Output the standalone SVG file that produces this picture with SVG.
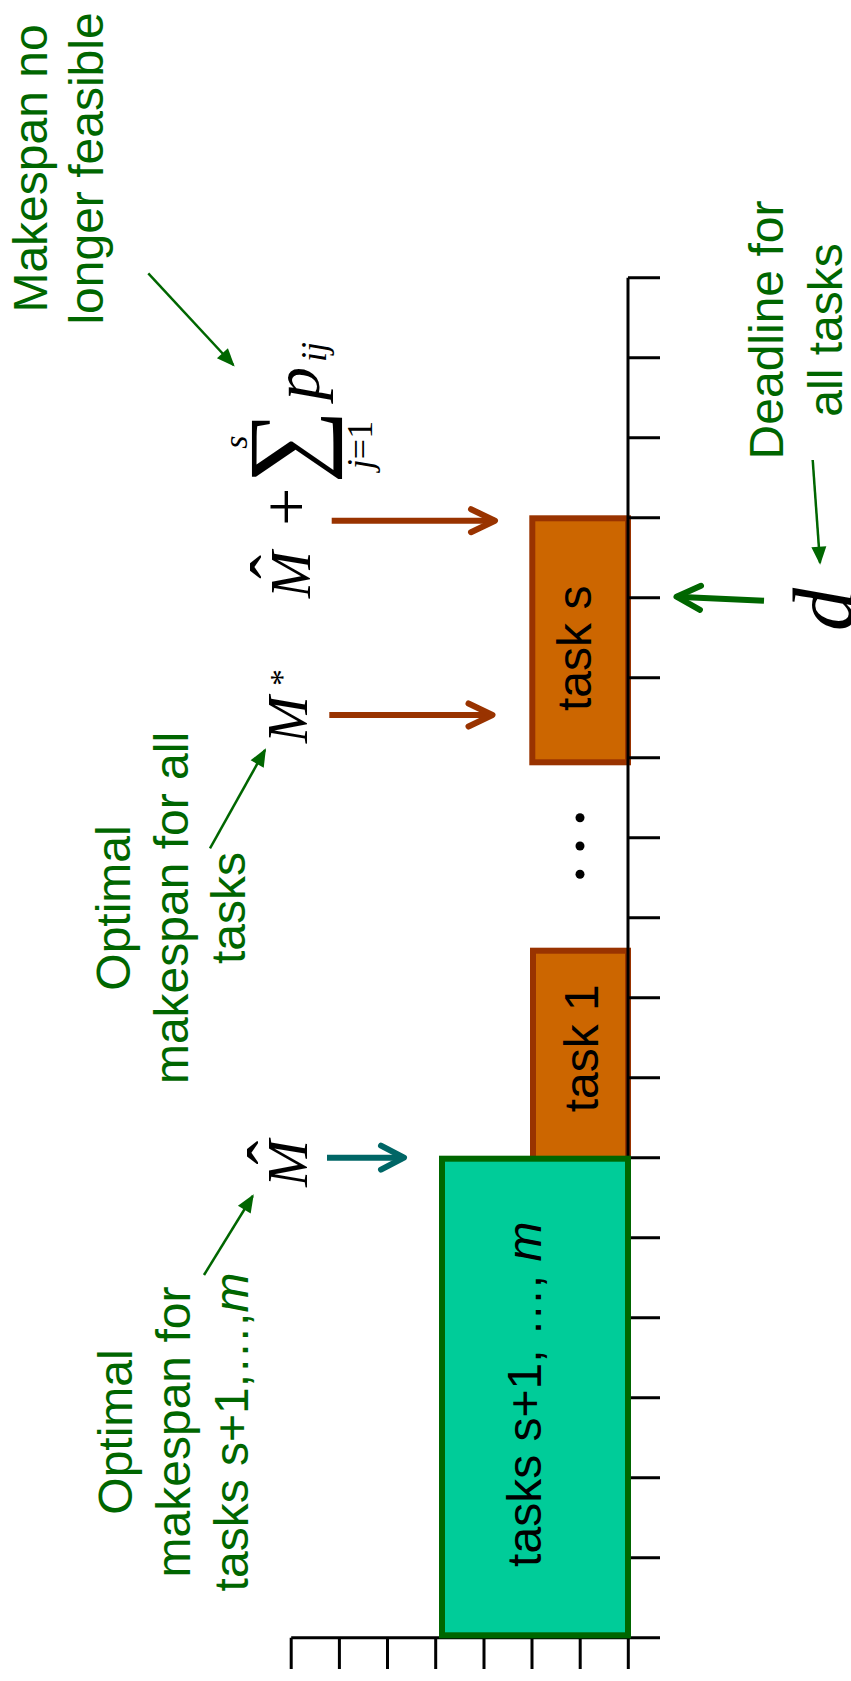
<svg xmlns="http://www.w3.org/2000/svg" width="851" height="1681" viewBox="0 0 851 1681">
<style>
.lbl{font-family:"Liberation Sans",Arial,sans-serif;font-size:48px;fill:#006600;text-anchor:middle}
.box{font-family:"Liberation Sans",Arial,sans-serif;font-size:48px;fill:#000;text-anchor:middle}
.math{font-family:"Liberation Serif","Times New Roman",serif;fill:#000}
.it{font-style:italic}
.ax{stroke:#000;stroke-width:3;fill:none}
.thin{stroke:#006600;stroke-width:2.5;fill:none}
.br{stroke:#993300;stroke-width:6;fill:none}
.teal{stroke:#006666;stroke-width:6;fill:none}
.gthick{stroke:#006600;stroke-width:6;fill:none}
</style>
<defs>
<marker id="tri" markerUnits="userSpaceOnUse" orient="auto" refX="0" refY="0" markerWidth="30" markerHeight="30" overflow="visible">
<path d="M2,0 L-16,-7.5 L-16,7.5 Z" fill="#006600"/>
</marker>
<marker id="chevB" markerUnits="userSpaceOnUse" orient="auto" refX="0" refY="0" markerWidth="40" markerHeight="40" overflow="visible">
<path d="M-24,-11.5 L0,0 L-24,11.5" fill="none" stroke="#993300" stroke-width="6" stroke-linecap="round" stroke-linejoin="round"/>
</marker>
<marker id="chevT" markerUnits="userSpaceOnUse" orient="auto" refX="0" refY="0" markerWidth="40" markerHeight="40" overflow="visible">
<path d="M-23,-12 L0,0 L-23,12" fill="none" stroke="#006666" stroke-width="6" stroke-linecap="round" stroke-linejoin="round"/>
</marker>
<marker id="chevG" markerUnits="userSpaceOnUse" orient="auto" refX="0" refY="0" markerWidth="40" markerHeight="40" overflow="visible">
<path d="M-24,-12 L0,0 L-24,12" fill="none" stroke="#006600" stroke-width="6" stroke-linecap="round" stroke-linejoin="round"/>
</marker>
</defs>

<g id="task-s">
<rect x="532.3" y="518.3" width="95.7" height="244" fill="#CC6600" stroke="#993300" stroke-width="6"/>
<text class="box" transform="translate(591,648.3) rotate(-90)">task s</text>
</g>
<g id="task-1">
<rect x="533" y="950.7" width="95" height="210" fill="#CC6600" stroke="#993300" stroke-width="6"/>
<text class="box" transform="translate(598,1048.3) rotate(-90)">task 1</text>
</g>

<g id="axis">
<path class="ax" d="M628,277.7 V1637.7 M628,277.7 H660 M628,357.7 H660 M628,437.7 H660 M628,517.7 H660 M628,597.7 H660 M628,677.7 H660 M628,757.7 H660 M628,837.7 H660 M628,917.7 H660 M628,997.7 H660 M628,1077.7 H660 M628,1157.7 H660 M628,1237.7 H660 M628,1317.7 H660 M628,1397.7 H660 M628,1477.7 H660 M628,1557.7 H660"/>
<path class="ax" d="M291.2,1637.7 H660 M291.2,1637.7 V1669 M339.4,1637.7 V1669 M387.5,1637.7 V1669 M435.7,1637.7 V1669 M484,1637.7 V1669 M532,1637.7 V1669 M580.2,1637.7 V1669 M628.3,1637.7 V1669"/>
</g>

<g id="tasks-rest">
<rect x="442" y="1158.7" width="186" height="476.6" fill="#00CC99" stroke="#006600" stroke-width="6"/>
<text class="box" transform="translate(540.7,1394.2) rotate(-90)">tasks s+1, …, <tspan font-style="italic">m</tspan></text>
</g>

<g id="dots" fill="#000">
<circle cx="580" cy="817.7" r="4.5"/>
<circle cx="580" cy="846" r="4.5"/>
<circle cx="580" cy="874.3" r="4.5"/>
</g>

<g id="label-infeasible">
<text class="lbl" transform="translate(46.7,168.5) rotate(-90)"><tspan x="0" y="0">Makespan no</tspan><tspan x="0" y="56.6">longer feasible</tspan></text>
</g>
<g id="label-deadline">
<text class="lbl" transform="translate(783.3,330) rotate(-90)"><tspan x="0" y="0">Deadline for</tspan><tspan x="0" y="58.4">all tasks</tspan></text>
</g>
<g id="label-opt-all">
<text class="lbl" transform="translate(130,908) rotate(-90)"><tspan x="0" y="0">Optimal</tspan><tspan x="0" y="58.3">makespan for all</tspan><tspan x="0" y="115">tasks</tspan></text>
</g>
<g id="label-opt-rest">
<text class="lbl" transform="translate(131.7,1432) rotate(-90)"><tspan x="0" y="0">Optimal</tspan><tspan x="0" y="58.3">makespan for</tspan><tspan x="0" y="116.8">tasks s+1,…,<tspan font-style="italic">m</tspan></tspan></text>
</g>

<g id="math-sum" class="math" transform="translate(310,598) rotate(-90)">
<text class="it" x="0" y="0" font-size="56">M</text>
<text x="31" y="-10" font-size="72" text-anchor="middle">ˆ</text>
<text x="72" y="-1.3" font-size="68">+</text>
<text x="151" y="10" font-size="104" text-anchor="middle">∑</text>
<text class="it" x="156" y="-63" font-size="34" text-anchor="middle">s</text>
<text x="153" y="62" font-size="36" text-anchor="middle"><tspan font-style="italic">j</tspan>=1</text>
<text class="it" x="198" y="9" font-size="66">p</text>
<text class="it" x="236" y="16" font-size="36">ij</text>
</g>
<g id="math-mstar" class="math" transform="translate(307,743) rotate(-90)">
<text class="it" x="0" y="0" font-size="56">M</text>
<text x="57" y="-14" font-size="34">*</text>
</g>
<g id="math-mhat" class="math" transform="translate(306.7,1186.7) rotate(-90)">
<text class="it" x="0" y="0" font-size="56">M</text>
<text x="34" y="-10" font-size="72" text-anchor="middle">ˆ</text>
</g>
<g id="math-d" class="math" transform="translate(853,631) rotate(-90)">
<text class="it" x="0" y="0" font-size="86">d</text>
</g>

<g id="connectors">
<line class="thin" x1="148.3" y1="273.3" x2="233.3" y2="365" marker-end="url(#tri)"/>
<line class="thin" x1="812.7" y1="460" x2="820" y2="562.7" marker-end="url(#tri)"/>
<line class="thin" x1="210" y1="848.3" x2="265" y2="750" marker-end="url(#tri)"/>
<line class="thin" x1="204" y1="1275" x2="252.7" y2="1196" marker-end="url(#tri)"/>
<line class="br" x1="331.7" y1="520.7" x2="495" y2="520.7" marker-end="url(#chevB)"/>
<line class="br" x1="329.3" y1="715" x2="492.5" y2="715" marker-end="url(#chevB)"/>
<line class="teal" x1="327" y1="1157.7" x2="404" y2="1157.7" marker-end="url(#chevT)"/>
<line class="gthick" x1="764" y1="600.7" x2="676.5" y2="596.7" marker-end="url(#chevG)"/>
</g>
</svg>
